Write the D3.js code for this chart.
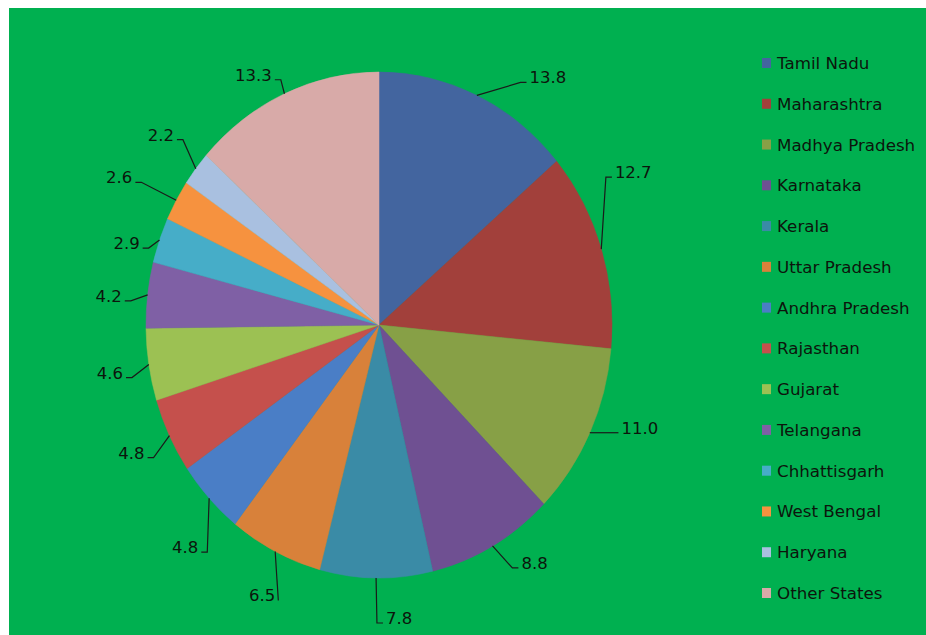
<!DOCTYPE html>
<html lang="en">
<head>
  <meta charset="UTF-8">
  <title>State shares</title>
  <style>
    body, html { margin: 0; padding: 0; background: #fff; }
    #svg { display: block; }
  </style>
</head>
<body>
  <svg id="svg" width="926" height="635"></svg>

  <script src="https://d3js.org/d3.v7.min.js"></script>
  <script>
    // ----- DATA ----------
    const states = ['Tamil Nadu', 'Maharashtra', 'Madhya Pradesh', 'Karnataka', 'Kerala',
      'Uttar Pradesh', 'Andhra Pradesh', 'Rajasthan', 'Gujarat', 'Telangana',
      'Chhattisgarh', 'West Bengal', 'Haryana', 'Other States']
    const shares = [13.8, 12.7, 11.0, 8.8, 7.8, 6.5, 4.8, 4.8, 4.6, 4.2, 2.9, 2.6, 2.2, 13.3]
    const sliceColors = ['#43659f', '#a2403b', '#87a046', '#6f5092', '#3a8ba6', '#d8813a', '#4a7ec6',
      '#c5504c', '#9cc153', '#7f60a5', '#46adc8', '#f6923f', '#a9c0e0', '#d8aaa8']

    // where each data label was dragged to (offset from the slice edge to the label centre)
    const labelNudge = [[71, -18], [32, -77], [50, -5], [42, 17], [23, 40], [-13, 44], [-24, 49],
      [-38, 17], [-39, 8], [-39, 1], [-33, 3], [-57, -23], [-35, -34], [-31, -19]]

    // CONSTANTS
    const cx = 379, cy = 325
    const rx = 233, ry = 253   // the picture is a bit stretched vertically
    const font = 'DejaVu Sans'
    const textColor = '#0c150c'

    const svg = d3.select('#svg')

    // green plot area
    svg.append('rect')
      .attr('x', 9).attr('y', 8)
      .attr('width', 926 - 9).attr('height', 635 - 8)
      .attr('fill', '#00b050')

    // -------- PIE ------------
    const color = d3.scaleOrdinal().domain(states).range(sliceColors)
    const rows = states.map((s, i) => ({ state: s, value: shares[i], i: i }))
    const arcs = d3.pie().sort(null).value(d => d.value)(rows)
    const arc = d3.arc().innerRadius(0).outerRadius(rx)

    svg.append('g')
      .attr('transform', `translate(${cx}, ${cy}) scale(1, ${ry / rx})`)
      .selectAll('path')
      .data(arcs)
      .join('path')
      .attr('d', arc)
      .attr('fill', d => color(d.data.state))
      .attr('stroke', d => color(d.data.state))
      .attr('stroke-width', 0.5)

    // -------- LABELS ------------
    const fmt = d3.format('.1f')
    const labelGroup = svg.append('g')

    arcs.forEach(d => {
      const mid = (d.startAngle + d.endAngle) / 2
      const ex = cx + rx * Math.sin(mid)
      const ey = cy - ry * Math.cos(mid)
      const lx = ex + labelNudge[d.data.i][0]
      const ly = ey + labelNudge[d.data.i][1]

      const txt = labelGroup.append('text')
        .attr('x', lx).attr('y', ly + 6)
        .attr('text-anchor', 'middle')
        .style('font-family', font)
        .style('font-size', '16.5px')
        .attr('fill', textColor)
        .text(fmt(d.data.value))
      const w = txt.node().getComputedTextLength()

      // leader line: from slice edge to the near side of the label with a short stub
      let sx, midX
      if (lx > ex) {
        sx = lx - w / 2 - 3
        midX = Math.max(sx - 6, Math.min(sx, ex))
      } else {
        sx = lx + w / 2 + 3
        midX = Math.min(sx + 6, Math.max(sx, ex))
      }
      const sy = ly + 5
      labelGroup.append('polyline')
        .attr('points', [[ex, ey], [midX, sy], [sx, sy]].map(p => p.join(',')).join(' '))
        .attr('fill', 'none')
        .attr('stroke', '#1a1a1a')
        .attr('stroke-width', 1.2)
    })

    // -------- LEGEND ------------
    const legendY = d3.scalePoint().domain(states).range([63, 593])
    const legend = svg.append('g')
      .selectAll('g')
      .data(states)
      .join('g')
      .attr('transform', d => `translate(762, ${legendY(d)})`)

    legend.append('rect')
      .attr('x', 0).attr('y', -5)
      .attr('width', 9).attr('height', 10)
      .attr('fill', d => color(d))

    legend.append('text')
      .attr('x', 15).attr('y', 6)
      .style('font-family', font)
      .style('font-size', '16.7px')
      .attr('fill', textColor)
      .text(d => d)
  </script>
</body>
</html>
